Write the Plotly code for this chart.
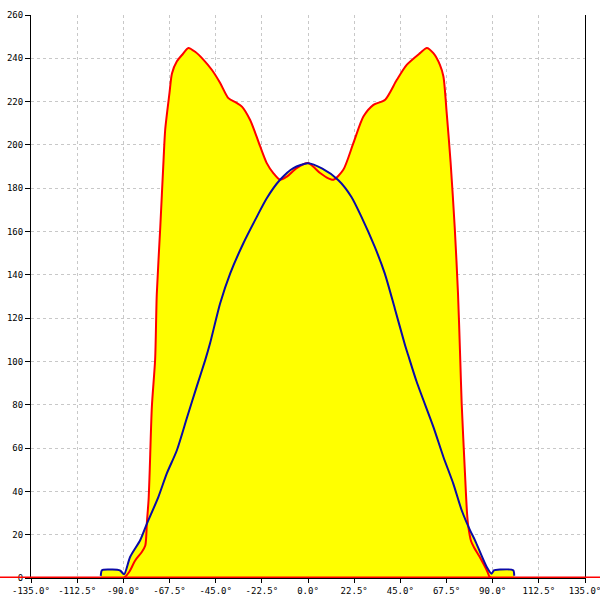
import plotly.graph_objects as go

# Red series (angle in degrees, value)
red_angle = [-180, -135, -90, -87, -84.3, -81, -79.3, -78.5, -77.7, -77.2, -76.1, -74.5, -73.7, -72,
             -70.4, -69.6, -67.5, -66.3, -63.9, -61, -58.3, -55, -50.9, -46.9, -42.8, -38.8, -35,
             -32.2, -28.2, -25.5, -23.3, -20.1, -16.9, -13.6, -10.3, -5.5, 0, 5.9, 9, 12.4, 17.2,
             22.1, 27, 31.9, 37.6, 43.3, 48.1, 54.6, 57.9, 61.1, 64.3, 66, 67.6, 69.5, 71.5, 73.1,
             74.2, 74.9, 76.5, 77.5, 78.1, 79.5, 81, 83.5, 87.4, 88.5, 90, 135, 180]
red_value = [0, 0, 0, 3, 8, 12, 15, 26, 36, 48, 79, 101, 131, 162,
             193, 207, 224, 233, 238.6, 242, 244.8, 243, 239.3, 234.7, 228.6, 221.6, 219.5,
             217.7, 211.5, 205, 199.3, 191.6, 187, 183.9, 185.4, 189.3, 191.6, 187, 185, 183.9, 188.5,
             200.8, 213.1, 218.5, 220.9, 230.1, 237, 242.4, 244.8, 242.4, 237, 231.6, 214.7, 192, 162, 131.5,
             101, 80.6, 48.3, 30, 24, 17, 14, 10, 3, 0.5, 0, 0, 0]

# Blue series (angle in degrees, value)
blue_angle = [-101, -100.4, -96.4, -93, -91.5, -89.6, -86.7, -81.8, -78.5, -72.9, -68.8, -63.9, -59,
              -54.2, -50.1, -47.7, -42.8, -37.9, -31.5, -24.9, -20.1, -13.6, -7.1, 0, 7, 14.7, 21.1,
              26, 32.5, 37.4, 42.3, 47.3, 48.8, 53, 61.1, 66, 70.8, 74.9, 79, 81.4, 87.1, 89.5,
              90.6, 93.6, 100, 100.5]
blue_value = [1, 3.6, 3.9, 3.8, 3.4, 1.7, 9.7, 17.4, 25.1, 37.5, 48.3, 59, 74,
              88.5, 100.6, 108.5, 126.9, 140.7, 154.6, 166.9, 175.4, 183.9, 189.3, 191.5, 189, 183.8, 176.1,
              166.9, 153, 140.7, 124.5, 107.5, 103, 90.5, 69.8, 55.9, 43.6, 31.3, 22, 17.4, 5.1, 2,
              3.5, 3.9, 3.6, 1]

x_ticks = [-135, -112.5, -90, -67.5, -45, -22.5, 0, 22.5, 45, 67.5, 90, 112.5, 135]
x_tick_labels = ["-135.0°", "-112.5°", "-90.0°", "-67.5°", "-45.0°", "-22.5°", "0.0°",
                 "22.5°", "45.0°", "67.5°", "90.0°", "112.5°", "135.0°"]
y_ticks = list(range(0, 261, 20))

FILL = "#ffff00"
RED = "#ff0000"
BLUE = "#0a0aa8"

fig = go.Figure()
fig.add_trace(go.Scatter(x=blue_angle, y=blue_value, mode="lines", fill="tozeroy",
                         fillcolor=FILL, line=dict(width=0, shape="spline", smoothing=0.7),
                         hoverinfo="skip"))
fig.add_trace(go.Scatter(x=red_angle, y=red_value, mode="lines", fill="tozeroy",
                         fillcolor=FILL, line=dict(color=RED, width=2, shape="spline", smoothing=0.7)))
fig.add_trace(go.Scatter(x=blue_angle, y=blue_value, mode="lines",
                         line=dict(color=BLUE, width=2, shape="spline", smoothing=0.7)))

fig.add_shape(type="line", xref="paper", yref="y", x0=-0.06, x1=1.03, y0=0, y1=0,
              line=dict(color=RED, width=3), layer="above")

tickfont = dict(family="DejaVu Sans Mono", size=9, color="black")
fig.update_layout(
    width=600, height=600,
    margin=dict(l=31, r=15, t=15, b=22, autoexpand=False),
    paper_bgcolor="white", plot_bgcolor="white",
    showlegend=False,
    xaxis=dict(range=[-135, 135], tickvals=x_ticks, ticktext=x_tick_labels,
               showgrid=True, gridcolor="#c8c8c8", griddash="3px,3px", gridwidth=1,
               zeroline=False, showline=True, linecolor="black", linewidth=1,
               ticks="outside", ticklen=4, tickcolor="black", tickfont=tickfont,
               automargin=False, ticklabeloverflow="allow", fixedrange=True),
    yaxis=dict(range=[0, 260], tickvals=y_ticks,
               showgrid=True, gridcolor="#c8c8c8", griddash="3px,3px", gridwidth=1,
               zeroline=False, showline=True, linecolor="black", linewidth=1, mirror=True,
               ticks="outside", ticklen=5, tickcolor="black", tickfont=tickfont,
               automargin=False, ticklabeloverflow="allow", fixedrange=True),
)

fig.write_html("out.html", config={"displayModeBar": False},
               post_script="document.body.style.margin='0';document.body.style.overflow='hidden';")
